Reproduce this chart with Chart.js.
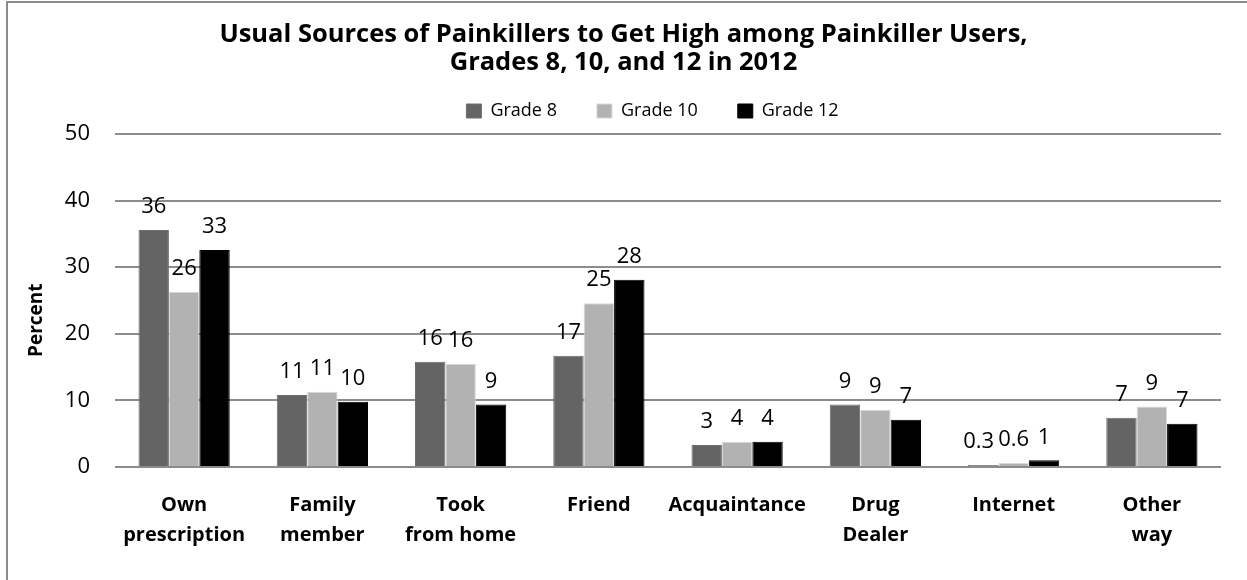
<!DOCTYPE html>
<html>
<head>
<meta charset="utf-8">
<script src="https://cdn.jsdelivr.net/npm/chart.js@4/dist/chart.umd.min.js"></script>
<style>
  html, body { margin: 0; padding: 0; background: #fff; }
  #wrap { position: absolute; left: 0; top: 0; width: 1247px; height: 580px; }
</style>
</head>
<body>
<div id="wrap"><canvas id="c" width="1247" height="580"></canvas></div>
<script>
const categories = [
  ['Own', 'prescription'],
  ['Family', 'member'],
  ['Took', 'from home'],
  ['Friend'],
  ['Acquaintance'],
  ['Drug', 'Dealer'],
  ['Internet'],
  ['Other', 'way']
];
const seriesNames = ['Grade 8', 'Grade 10', 'Grade 12'];
const grade8 = [35.6, 10.8, 15.8, 16.7, 3.3, 9.4, 0.3, 7.4];
const grade10 = [26.3, 11.3, 15.5, 24.6, 3.8, 8.6, 0.6, 9.1];
const grade12 = [32.6, 9.8, 9.4, 28.1, 3.8, 7.1, 1.0, 6.5];
const yTicks = [0, 10, 20, 30, 40, 50];
const titleLines = ['Usual Sources of Painkillers to Get High among Painkiller Users,', 'Grades 8, 10, and 12 in 2012'];
const yTitle = 'Percent';

const FONT = '"Open Sans", Lato, "DejaVu Sans", sans-serif';

function fmt(v) {
  return v < 1 ? v.toFixed(1) : String(Math.round(v));
}

const frame = {
  id: 'frame',
  beforeDraw(chart) {
    const ctx = chart.ctx;
    ctx.save();
    ctx.fillStyle = '#ffffff';
    ctx.fillRect(0, 0, chart.width, chart.height);
    ctx.strokeStyle = '#8c8c8c';
    ctx.lineWidth = 2;
    ctx.beginPath();
    ctx.moveTo(7, chart.height);
    ctx.lineTo(7, 2);
    ctx.lineTo(chart.width, 2);
    ctx.stroke();
    ctx.restore();
  }
};

// shift title and legend horizontally to match the reference's centring
const shiftBlocks = {
  id: 'shiftBlocks',
  afterLayout(chart) {
    if (chart.titleBlock) { chart.titleBlock.left += 13; chart.titleBlock.right += 13; }
    if (chart.legend) { chart.legend.left += 42; chart.legend.right += 42; }
  }
};

const valueLabels = {
  id: 'valueLabels',
  afterDatasetsDraw(chart) {
    const ctx = chart.ctx;
    ctx.save();
    ctx.font = '22px ' + FONT;
    ctx.fillStyle = '#000';
    ctx.textAlign = 'center';
    ctx.textBaseline = 'middle';
    const n = chart.data.labels.length;
    for (let j = 0; j < n; j++) {
      const items = chart.data.datasets.map((ds, i) => {
        const bar = chart.getDatasetMeta(i).data[j];
        const text = fmt(ds.data[j]);
        return { x: bar.x, y: bar.y - 23, text, w: ctx.measureText(text).width };
      });
      // nudge overlapping labels apart (right to left)
      for (let k = items.length - 2; k >= 0; k--) {
        const a = items[k], b = items[k + 1];
        const overlap = (a.x + a.w / 2 + 4) - (b.x - b.w / 2);
        if (overlap > 0) a.x -= overlap;
      }
      items.forEach(it => ctx.fillText(it.text, it.x, it.y));
    }
    ctx.restore();
  }
};

new Chart(document.getElementById('c'), {
  type: 'bar',
  data: {
    labels: categories,
    datasets: [
      { label: seriesNames[0], data: grade8, backgroundColor: '#646464', borderColor: '#6e6e6e', borderWidth: 1 },
      { label: seriesNames[1], data: grade10, backgroundColor: '#b2b2b2', borderColor: '#d9d9d9', borderWidth: 1 },
      { label: seriesNames[2], data: grade12, backgroundColor: '#000000', borderColor: '#000000', borderWidth: 1 }
    ]
  },
  options: {
    responsive: false,
    animation: false,
    devicePixelRatio: 1,
    categoryPercentage: 0.66,
    barPercentage: 1.0,
    layout: { padding: { left: 0, right: 26, top: 0, bottom: 30 } },
    plugins: {
      title: {
        display: true,
        text: titleLines,
        color: '#000',
        font: { family: FONT, size: 25.5, weight: 'bold', lineHeight: '28px' },
        padding: { top: 21, bottom: -15 }
      },
      subtitle: {
        display: true,
        text: '',
        weight: 900,
        font: { size: 1, lineHeight: '0px' },
        padding: { top: 4, bottom: 0 }
      },
      legend: {
        display: true,
        position: 'top',
        labels: {
          color: '#000',
          font: { family: FONT, size: 18 },
          boxWidth: 15,
          boxHeight: 14,
          padding: 40
        }
      },
      tooltip: { enabled: false }
    },
    scales: {
      x: {
        afterFit(scale) { scale.height = 83; },
        grid: { display: false, drawTicks: false },
        border: { display: false },
        ticks: {
          color: '#000',
          font: { family: FONT, size: 20, weight: 'bold', lineHeight: '30px' },
          padding: 23,
          maxRotation: 0,
          autoSkip: false
        }
      },
      y: {
        min: 0,
        max: 50,
        afterBuildTicks(scale) { scale.ticks = yTicks.map(v => ({ value: v })); },
        afterFit(scale) { scale.width = 115; },
        grid: { color: '#8c8c8c', lineWidth: 2, drawTicks: false },
        border: { display: false },
        ticks: {
          color: '#000',
          font: { family: FONT, size: 22 },
          padding: 25
        },
        title: {
          display: true,
          text: yTitle + '        ',
          color: '#000',
          font: { family: FONT, size: 19, weight: 'bold' },
          padding: { top: 25, bottom: 0 }
        }
      }
    }
  },
  plugins: [frame, shiftBlocks, valueLabels]
});
</script>
</body>
</html>
